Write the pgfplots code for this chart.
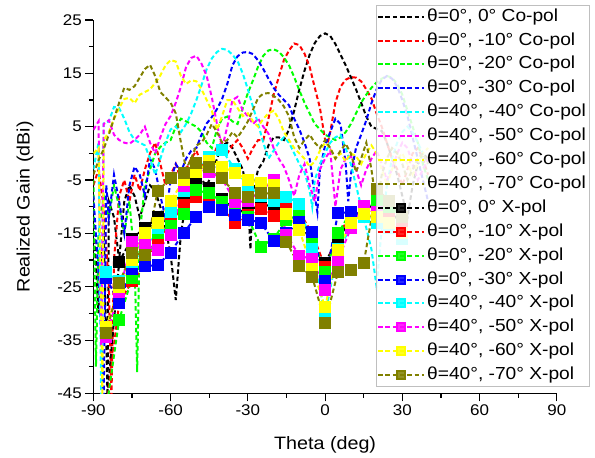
\documentclass[border=0pt]{standalone}
\usepackage{fontspec}
\setmainfont{Liberation Sans}[FakeStretch=1.1]
\usepackage{pgfplots}
\pgfplotsset{compat=1.18}

\definecolor{cOlive}{RGB}{128,128,0}
\definecolor{cGreen}{RGB}{0,255,0}
\definecolor{cCyan}{RGB}{0,255,255}
\definecolor{cMag}{RGB}{255,0,255}
\definecolor{cYel}{RGB}{255,255,0}
\definecolor{cRed}{RGB}{255,0,0}
\definecolor{cBlue}{RGB}{0,0,255}

\pgfplotsset{
  copol/.style={line width=2bp, dash pattern=on 4.5bp off 2.8bp},
  xpol/.style={line width=2bp, dash pattern=on 4.5bp off 2.8bp, mark=square*, mark size=5bp, mark options={solid}},
}

\begin{document}
\begin{tikzpicture}
\useasboundingbox (0,0) rectangle (595bp,458bp);
\begin{axis}[
  at={(93.4bp,64.6bp)}, anchor=south west,
  scale only axis, width=463.4bp, height=373.4bp,
  xmin=-90, xmax=90, ymin=-45, ymax=25,
  axis x line*=bottom, axis y line*=left,
  axis line style={-, line width=1.2bp},
  xtick={-90,-60,-30,0,30,60,90}, xticklabels={-90,-60,-30,0,30,60,90},
  minor xtick={-75,-45,-15,15,45,75},
  ytick={-45,-35,-25,-15,-5,5,15,25}, yticklabels={-45,-35,-25,-15,-5,5,15,25},
  minor ytick={-40,-30,-20,-10,0,10,20},
  tick align=outside, major tick length=8bp, minor tick length=4.5bp,
  every tick/.style={black, line width=1.1bp},
  tick label style={font=\fontsize{15.5}{18}\selectfont},
  label style={font=\fontsize{18}{21}\selectfont},
  xlabel={Theta (deg)}, ylabel={Realized Gain (dBi)},
  xlabel style={at={(axis description cs:0.5,-0.138)}, anchor=center},
  ylabel style={at={(axis description cs:-0.1476,0.5)}, anchor=center},
  legend cell align=left,
  legend style={at={(0.6098,1.0402)}, anchor=north west, draw=black!25,
    fill=white, fill opacity=0.85, text opacity=1,
    font=\fontsize{17.5}{20}\selectfont, inner xsep=1bp, inner ysep=3bp,
    row sep=6.9bp, nodes={inner ysep=0bp, inner xsep=2bp, text height=13bp, text depth=4bp}},
  legend image code/.code={\draw[mark repeat=2,mark phase=2,#1,mark size=4bp] plot coordinates {(0bp,0bp) (23bp,0bp) (46bp,0bp)};},
]
% Co-pol
\addplot[copol, black] coordinates {(-90,-12) (-88,-30) (-86,-14) (-84.5,-46) (-84,-9) (-82,-12) (-80,-20) (-78,-9) (-76,-6) (-74,-8) (-72,-12) (-70,-9) (-68,-6) (-66,-7) (-64,-10) (-62,-14) (-60,-19) (-58,-27.5) (-56,-15) (-54,-9) (-52,-6.5) (-50,-5.5) (-48,-5) (-46,-6) (-44,-4) (-42,-1) (-40,1.5) (-38,2) (-36,1) (-34,-1) (-32,-3) (-30,-8) (-29,-18) (-28,-7) (-26,-3) (-24,-1.5) (-22,1.5) (-20,3) (-18,3) (-16,2.5) (-14,4.5) (-12,8) (-10,12) (-8,15.5) (-6,18.5) (-4,20.7) (-2,22) (0,22.5) (2,22) (4,20.5) (6,18.5) (8,16.5) (10,14.3) (12,12) (14,9.5) (16,6.9) (18,5) (20,4.6) (22,4.2) (24,2) (26,-1) (28,-4) (30,-8) (32,-12) (34,-6) (36,-2) (38,0) (40,-1)};
\addlegendentry{θ=0°, 0° Co-pol}
\addplot[copol, cRed] coordinates {(-90,-6) (-88,-3) (-86,-10) (-84,-25) (-83,-46) (-82,-20) (-80,-8) (-78,-5) (-76,-9) (-74,-4) (-72,-7) (-70,-3) (-68,0) (-66,2) (-64,-2) (-62,-6) (-60,-4) (-58,-2) (-56,-5) (-54,-3) (-52,-1) (-50,0.5) (-48,-2) (-46,-4) (-44,-1) (-42,1.2) (-40,2) (-38,0) (-36,1.5) (-34,2.5) (-32,1) (-30,-1) (-28,1) (-26,2.5) (-24,2.5) (-22,6.5) (-20,11) (-18,14.3) (-16,17.5) (-14,19.3) (-12,20.6) (-10,20.3) (-8,18.7) (-6,16.2) (-4,12.3) (-2,8.5) (0,2.5) (1,1.9) (2,4) (4,9.5) (6,12.5) (8,13.8) (10,14.3) (12,14.2) (14,13.5) (16,12) (18,10.3) (20,7.5) (22,5) (24,2) (26,-1) (28,-3) (30,-6) (32,-3) (34,0) (36,1) (38,-1) (40,-4)};
\addlegendentry{θ=0°, -10° Co-pol}
\addplot[copol, cGreen] coordinates {(-90,-5) (-89,-40) (-88,-15) (-86,-8) (-84,-12) (-82,-6) (-80,-10) (-78,-15) (-76,-9) (-74,-20) (-73,-41) (-72,-15) (-70,-6) (-68,-3) (-66,0) (-64,1.2) (-62,2) (-60,2.5) (-58,5) (-56,6.5) (-54,6) (-52,5.5) (-50,5) (-48,4) (-46,2) (-44,1) (-42,4.5) (-40,6.5) (-38,6.9) (-36,6) (-34,5.5) (-32,8.5) (-30,11.3) (-28,13.7) (-26,16.3) (-24,18.3) (-22,19.3) (-20,19.5) (-18,19.1) (-16,18) (-14,16.5) (-12,14.3) (-10,11.8) (-8,9.5) (-6,7.5) (-4,5.5) (-2,4.5) (0,3.5) (2,3) (4,2.5) (6,3) (8,4) (10,5.5) (12,7.5) (14,9.5) (16,11) (18,12.3) (20,13.3) (22,14) (24,14.5) (26,14.2) (28,13) (30,11) (32,8) (34,5) (36,2) (38,-2) (40,-5)};
\addlegendentry{θ=0°, -20° Co-pol}
\addplot[copol, cBlue] coordinates {(-90,-8) (-88,-22.5) (-86,-46) (-85,-6) (-84,-12) (-82,-4) (-80,-9) (-78,-15) (-76,-6) (-74,-2.5) (-72,-4) (-70,-8) (-68,-1) (-66,-3) (-64,-8) (-62,-12) (-60,-5) (-58,-2) (-56,-3.5) (-54,-1) (-52,0.5) (-50,1) (-48,3.5) (-46,5.6) (-44,6.8) (-42,8.3) (-40,10.2) (-38,13) (-36,16.5) (-34,18.2) (-32,18.9) (-30,19) (-28,18.6) (-26,17.4) (-24,15.8) (-22,14) (-20,12.3) (-18,11) (-16,10) (-14,9) (-12,6.5) (-10,4.5) (-8,2) (-6,-1) (-4,-8) (-3,-11) (-2,-3) (0,1.5) (2,4) (4,6.5) (6,5.5) (8,-2) (9,-9) (10,-4) (12,1) (14,3.5) (16,6.2) (18,9.4) (20,12) (22,13.8) (24,14.5) (26,14) (28,12.5) (30,10) (32,7) (34,3) (36,-1) (38,-5) (40,-9)};
\addlegendentry{θ=0°, -30° Co-pol}
\addplot[copol, cCyan] coordinates {(-90,-3) (-88,2) (-87,-46) (-86,5.6) (-84,6) (-82,8.7) (-80,8.5) (-78,6.5) (-76,4) (-74,2.5) (-72,2) (-70,1.5) (-68,-1) (-66,-4) (-64,-1) (-62,2) (-60,4.5) (-58,5) (-56,4) (-54,5.5) (-52,7.5) (-50,10) (-48,12.8) (-46,15.8) (-44,17.8) (-42,19) (-40,19.6) (-38,19.4) (-36,18.5) (-34,17.3) (-32,15) (-30,12) (-28,8.7) (-26,5.5) (-24,2) (-22,-1) (-20,0.5) (-18,2) (-16,3) (-14,2) (-12,0) (-10,-2) (-8,-3.5) (-6,-7) (-5,-10) (-4,-5) (-2,-2) (0,0) (2,2) (4,3) (6,3.5) (8,1) (10,-2) (12,-6) (14,-10) (16,-14) (18,-18) (20,-25) (22,-14) (24,-6) (26,-1) (28,2) (30,4) (32,5) (34,4) (36,2) (38,0) (40,-2)};
\addlegendentry{θ=40°, -40° Co-pol}
\addplot[copol, cMag] coordinates {(-90,4.4) (-88,6) (-87,-36) (-86,5.5) (-84,6.2) (-82,3.5) (-80,2.5) (-78,2) (-76,1.8) (-74,2.5) (-72,3.5) (-70,5) (-68,2) (-66,0) (-64,3) (-62,5.5) (-60,7) (-58,9.5) (-56,12.5) (-54,16.2) (-52,17.9) (-50,18.3) (-48,16.8) (-46,14.5) (-44,10.5) (-42,5.5) (-40,1) (-38,5) (-36,10) (-34,10.6) (-32,8) (-30,7) (-28,5.5) (-26,6.5) (-24,5) (-22,3.7) (-20,1) (-18,-1) (-16,-2.5) (-14,-5) (-12,-8) (-10,-4) (-8,-2) (-6,-6) (-4,-9) (-2,-3) (0,-1) (2,0.5) (4,-10) (6,-3) (8,-1) (10,-0.5) (12,-3) (14,-6) (16,-3) (18,-1) (20,0.5) (22,-2) (24,-5) (26,-3) (28,0) (30,2) (32,1) (34,-2) (36,-5) (38,-3) (40,-1)};
\addlegendentry{θ=40°, -50° Co-pol}
\addplot[copol, cYel] coordinates {(-90,0) (-88,1) (-86.5,-46) (-86,2.5) (-84,4) (-82,6.5) (-80,8.5) (-78,10.2) (-76,10.4) (-74,9.4) (-72,11) (-70,11.5) (-68,12) (-66,13.2) (-64,14.6) (-62,16.5) (-60,17.5) (-58,17.2) (-56,14.5) (-54,13) (-52,13.7) (-50,13.5) (-48,12) (-46,10) (-44,8) (-42,4.4) (-40,7) (-38,10) (-36,10) (-34,8.5) (-32,7) (-30,7.5) (-28,6) (-26,5) (-24,6.5) (-22,7.5) (-20,8) (-18,6.5) (-16,4) (-14,2.5) (-12,1) (-10,0) (-8,-1) (-6,-2.5) (-4,-1.5) (-2,0.5) (0,2) (2,1) (4,-1) (6,0) (8,-1.5) (10,0) (12,-0.5) (14,-2) (16,0) (18,1.5) (20,0) (22,-3) (24,-6) (26,-3) (28,-1) (30,0) (32,-2) (34,-4) (36,-2) (38,0) (40,1)};
\addlegendentry{θ=40°, -60° Co-pol}
\addplot[copol, cOlive] coordinates {(-90,-4) (-88,-1.3) (-86,0.8) (-84,3.5) (-82,6.5) (-80,9.5) (-78,12.3) (-76,11.9) (-74,12.6) (-72,14.2) (-70,15.8) (-68,16.6) (-66,14.5) (-64,11.5) (-62,10.5) (-60,9.5) (-58,7.5) (-56,2) (-54,-3) (-52,-1) (-50,1.5) (-48,2) (-46,3.5) (-44,5.5) (-42,4) (-40,2) (-38,2.5) (-36,4) (-34,3) (-32,4.4) (-30,6) (-28,8.2) (-26,10.4) (-24,11.2) (-22,11.3) (-20,10.8) (-18,10) (-16,8.8) (-14,6.9) (-12,3) (-10,1) (-8,2.5) (-6,3.5) (-4,2) (-2,1) (0,2.5) (2,1) (4,-1) (6,0.5) (8,1.8) (10,0) (12,-3.5) (14,-1) (16,2) (18,-3) (20,-10) (22,-4) (24,-1) (26,1) (28,0) (30,-2) (32,-5) (34,-3) (36,-1) (38,0) (40,-2)};
\addlegendentry{θ=40°, -70° Co-pol}
% X-pol
\addplot[xpol, black] coordinates {(-85,-48) (-80,-20.3) (-75,-16) (-70,-14) (-65,-12) (-60,-9.5) (-55,-7.5) (-50,-5.3) (-45,-6.5) (-40,-8.5) (-35,-10.6) (-30,-11) (-25,-9.5) (-20,-10) (-15,-11) (-10,-12) (-5,-17.4) (0,-20.5) (5,-16) (10,-12.5) (15,-10.5) (20,-9.5) (25,-11) (30,-13)};
\addlegendentry{θ=0°, 0° X-pol}
\addplot[xpol, cRed] coordinates {(-85,-48) (-80,-28) (-75,-24) (-70,-21) (-65,-16.3) (-60,-13) (-55,-9.7) (-50,-8.1) (-45,-9) (-40,-10) (-35,-13.1) (-30,-11.5) (-25,-10.5) (-20,-11.7) (-15,-9.7) (-10,-11) (-5,-15) (0,-21.3) (5,-15) (10,-12) (15,-10.5) (20,-11) (25,-12) (30,-14)};
\addlegendentry{θ=0°, -10° X-pol}
\addplot[xpol, cGreen] coordinates {(-85,-48) (-80,-31.2) (-75,-23.4) (-70,-20.5) (-65,-15) (-60,-13.7) (-55,-11.3) (-50,-6.9) (-45,-7.5) (-40,-9.1) (-35,-10.5) (-30,-12) (-25,-17.5) (-20,-16) (-15,-12.5) (-10,-11.5) (-5,-16) (0,-22.2) (5,-15) (10,-11) (15,-10) (20,-9) (25,-10) (30,-12)};
\addlegendentry{θ=0°, -20° X-pol}
\addplot[xpol, cBlue] coordinates {(-85,-23.4) (-80,-28) (-75,-21.6) (-70,-21.2) (-65,-20.9) (-60,-18.6) (-55,-14.9) (-50,-11.9) (-45,-10.1) (-40,-10.6) (-35,-11.6) (-30,-12.4) (-25,-13) (-20,-16.4) (-15,-15) (-10,-12.8) (-5,-14.7) (0,-24) (5,-11.2) (10,-11) (15,-11.5) (20,-12) (25,-13) (30,-15)};
\addlegendentry{θ=0°, -30° X-pol}
\addplot[xpol, cCyan] coordinates {(-85,-22.2) (-80,-24) (-75,-20.3) (-70,-18) (-65,-14) (-60,-10.9) (-55,-7) (-50,-3.5) (-45,-0.6) (-40,0.6) (-35,-3) (-30,-6) (-25,-8) (-20,-9) (-15,-8.1) (-10,-9.4) (-5,-18) (0,-30.3) (5,-18) (10,-14) (15,-12) (20,-13) (25,-14) (30,-16)};
\addlegendentry{θ=40°, -40° X-pol}
\addplot[xpol, cMag] coordinates {(-85,-34.5) (-80,-26) (-75,-16.6) (-70,-17.2) (-65,-18.1) (-60,-15.3) (-55,-6.2) (-50,-3) (-45,-3.5) (-40,-4.7) (-35,-9.1) (-30,-9) (-25,-7) (-20,-5) (-15,-15.3) (-10,-19.2) (-5,-19.8) (0,-25.6) (5,-20) (10,-14) (15,-9.9) (20,-11) (25,-13) (30,-15)};
\addlegendentry{θ=40°, -50° X-pol}
\addplot[xpol, cYel] coordinates {(-85,-32.5) (-80,-25) (-75,-20) (-70,-15) (-65,-13.1) (-60,-9) (-55,-5) (-50,-3.5) (-45,-1.5) (-40,-2.5) (-35,-3.6) (-30,-5) (-25,-5.5) (-20,-6) (-15,-11.3) (-10,-14.4) (-5,-21.6) (0,-28.8) (5,-18.1) (10,-13) (15,-11.3) (20,-12) (25,-13) (30,-15)};
\addlegendentry{θ=40°, -60° X-pol}
\addplot[xpol, cOlive] coordinates {(-85,-33.7) (-80,-24.3) (-75,-18.7) (-70,-19.1) (-65,-7) (-60,-4.7) (-55,-3.7) (-50,-1.8) (-45,-2.5) (-40,-4.7) (-35,-7.5) (-30,-8.1) (-25,-7.5) (-20,-7.5) (-15,-16.6) (-10,-21.1) (-5,-23.1) (0,-31.8) (5,-22.2) (10,-21.9) (15,-20.6) (20,-6.6) (25,-9) (30,-12)};
\addlegendentry{θ=40°, -70° X-pol}
\end{axis}
\end{tikzpicture}
\end{document}
